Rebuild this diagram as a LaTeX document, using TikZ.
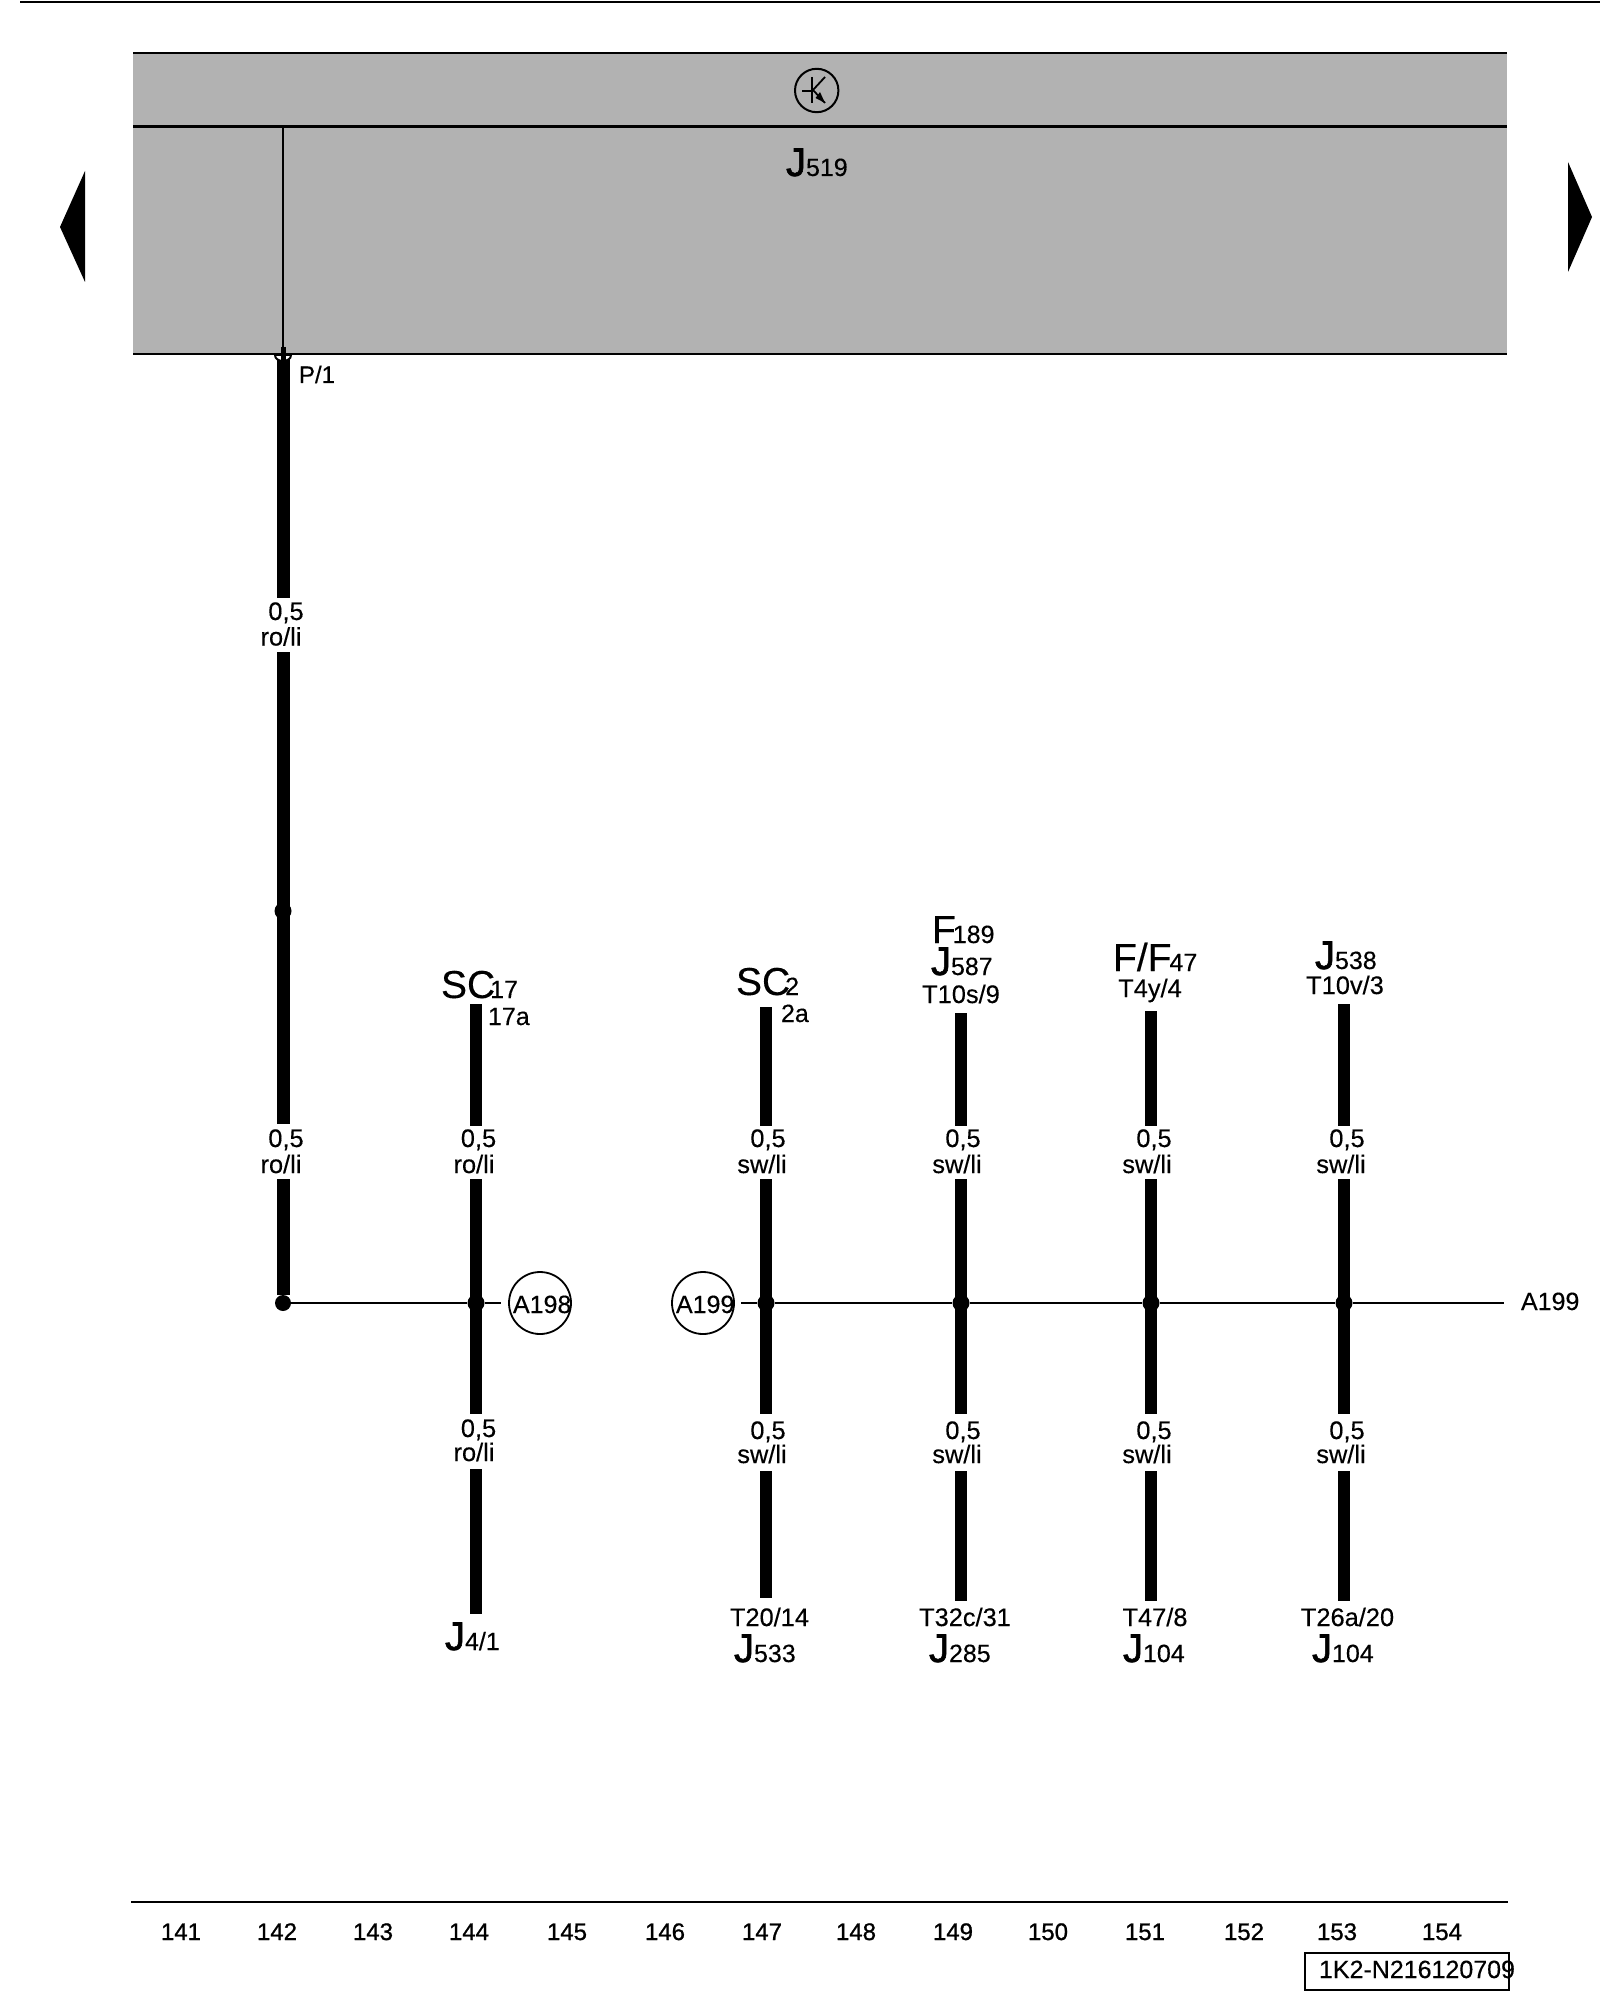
\documentclass[tikz,border=0pt]{standalone}
\usepackage{fontspec}
\setmainfont[FakeBold=0.3]{Liberation Sans}
\newfontfamily\heavyJ[FakeBold=1.6]{Liberation Sans}
\newfontfamily\medF[FakeBold=0.9]{Liberation Sans}
\newcommand{\sz}[1]{\fontsize{#1}{#1}\selectfont}
\newcommand{\bigJ}[1]{{\heavyJ\sz{20}#1}}
\newcommand{\bigS}[1]{{\sz{19.5}#1}}
\newcommand{\subN}[1]{{\sz{12.5}#1}}
\tikzset{
  x=0.5pt,y=-0.5pt,
  lbl/.style={inner sep=0pt,outer sep=0pt,anchor=base,font=\sz{12.7}},
  lblw/.style={inner sep=0pt,outer sep=0pt,anchor=base west,font=\sz{12.5}},
  foot/.style={inner sep=0pt,anchor=base,font=\medF\sz{12}},
  thick wire/.style={line width=6pt,line cap=butt},
  main wire/.style={line width=6.5pt,line cap=butt},
  thin wire/.style={line width=1pt},
  rule/.style={line width=1.1pt},
  junction/.style={circle,fill=black,inner sep=0pt,minimum size=8.5pt},
  bubble/.style={circle,draw,line width=0.9pt,minimum size=31pt,inner sep=0pt,fill=white},
}
\begin{document}
\begin{tikzpicture}
\useasboundingbox (0,0) rectangle (1600,2000);
% top rule
\coordinate (tl) at (20,2); \coordinate (tr) at (1600,2);
\draw[line width=0.7pt] (tl) -- (tr);
% panel
\fill[fill={rgb,255:red,178;green,178;blue,178}] (133,53) rectangle (1507,354);
\coordinate (pa) at (133,53); \coordinate (pb) at (1507,53);
\coordinate (pc) at (133,126.5); \coordinate (pd) at (1507,126.5);
\coordinate (pe) at (133,354); \coordinate (pf) at (1507,354);
\draw[rule] (pa) -- (pb); \draw[rule] (pc) -- (pd); \draw[rule] (pe) -- (pf);
% transistor symbol
\node[circle,draw,line width=1pt,minimum size=21.7pt,inner sep=0pt] (tr1) at (816.7,90.5) {};
\coordinate (b1) at (812,77); \coordinate (b2) at (812,103);
\coordinate (b3) at (802,91); \coordinate (b4) at (812,91);
\coordinate (c0) at (813,90); \coordinate (c1) at (825,77); \coordinate (e1) at (825,103);
\draw[line width=0.9pt] (b1) -- (b2); \draw[line width=0.9pt] (b3) -- (b4);
\draw[line width=0.9pt] (c0) -- (c1);
\draw[line width=0.9pt] (c0) -- (e1);
\fill (825,103) -- (815.5,98) -- (820,92) -- cycle;
\node[lblw] (j519) at (786,176) {\bigJ{J}\subN{519}};
% side arrows
\fill (60,227) -- (85,171) -- (85,282) -- cycle;
\fill (1592,217) -- (1568,162) -- (1568,272) -- cycle;
% wire from panel
\coordinate (w0a) at (283,126.5); \coordinate (w0b) at (283,347);
\coordinate (w0c) at (283,359); \coordinate (w0d) at (283,598);
\coordinate (w0e) at (283,652); \coordinate (w0f) at (283,1124);
\coordinate (w0g) at (283,1179); \coordinate (w0h) at (283,360);
\node[junction,minimum size=8pt] (n0) at (283,1303) {};
\node[junction] (n00) at (283,911) {};
\draw[thin wire] (w0a) -- (w0b);
\draw[main wire] (w0c) -- (w0d); \draw[main wire] (w0e) -- (w0f); \draw[main wire] (w0g) -- (n0);
\draw[line width=1pt,fill=white] (275,355) .. controls (275,363) and (291,363) .. (291,355) -- cycle;
\draw[line width=2.5pt] (w0b) -- (w0h);
\node[lblw,font=\sz{12}] (p1) at (299,383) {P/1};
\node[lbl] at (286,620) {0,5};
\node[lbl] at (281,645.5) {ro/li};
\node[lbl] at (286,1147) {0,5};
\node[lbl] at (281,1173) {ro/li};
% column 1
\coordinate (a1) at (476,1004); \coordinate (a2) at (476,1126); \coordinate (a3) at (476,1179);
\coordinate (a4) at (476,1414); \coordinate (a5) at (476,1469); \coordinate (a6) at (476,1614);
\node[junction] (n1) at (476,1303) {};
\draw[thick wire] (a1) -- (a2); \draw[thick wire] (a3) -- (a4); \draw[thick wire] (a5) -- (a6);
\node[bubble] (b198) at (540,1303) {};
\node[lblw] at (513,1313) {A198};
\coordinate (h1) at (501,1303);
\draw[thin wire] (n0) -- (n1) -- (h1);
\node[lblw] at (441,998) {\bigS{SC}\subN{\kern-2.5pt 17}};
\node[lblw] at (488,1025) {17a};
\node[lbl] at (478.5,1147) {0,5};
\node[lbl] at (474,1173) {ro/li};
\node[lbl] at (478.5,1437) {0,5};
\node[lbl] at (474,1461) {ro/li};
\node[lblw] at (445,1650) {\bigJ{J}\subN{4/1}};
% column 2
\coordinate (c21) at (766,1007); \coordinate (c22) at (766,1126); \coordinate (c23) at (766,1179);
\coordinate (c24) at (766,1414); \coordinate (c25) at (766,1471); \coordinate (c26) at (766,1598);
\node[junction] (n2) at (766,1303) {};
\draw[thick wire] (c21) -- (c22); \draw[thick wire] (c23) -- (c24); \draw[thick wire] (c25) -- (c26);
\node[bubble] (b199) at (703,1303) {};
\node[lblw] at (676,1313) {A199};
\node[lblw] at (736,995) {\bigS{SC}\subN{\kern-2.5pt 2}};
\node[lblw] at (781,1022) {2a};
\node[lbl] at (768,1147) {0,5};
\node[lbl] at (762,1173) {sw/li};
\node[lbl] at (768,1439) {0,5};
\node[lbl] at (762,1463) {sw/li};
\node[lbl] at (769.5,1626) {T20/14};
\node[lblw] at (734,1662) {\bigJ{J}\subN{533}};
% column 3
\coordinate (c31) at (961,1013); \coordinate (c32) at (961,1126); \coordinate (c33) at (961,1179);
\coordinate (c34) at (961,1414); \coordinate (c35) at (961,1471); \coordinate (c36) at (961,1601);
\node[junction] (n3) at (961,1303) {};
\draw[thick wire] (c31) -- (c32); \draw[thick wire] (c33) -- (c34); \draw[thick wire] (c35) -- (c36);
\node[lblw] at (932,943) {\bigS{F}\subN{\kern-1.5pt 189}};
\node[lblw] at (931,975) {\bigJ{J}\subN{587}};
\node[lbl] at (961,1003) {T10s/9};
\node[lbl] at (963,1147) {0,5};
\node[lbl] at (957,1173) {sw/li};
\node[lbl] at (963,1439) {0,5};
\node[lbl] at (957,1463) {sw/li};
\node[lbl] at (965,1626) {T32c/31};
\node[lblw] at (929,1662) {\bigJ{J}\subN{285}};
% column 4
\coordinate (c41) at (1151,1011); \coordinate (c42) at (1151,1126); \coordinate (c43) at (1151,1179);
\coordinate (c44) at (1151,1414); \coordinate (c45) at (1151,1471); \coordinate (c46) at (1151,1601);
\node[junction] (n4) at (1151,1303) {};
\draw[thick wire] (c41) -- (c42); \draw[thick wire] (c43) -- (c44); \draw[thick wire] (c45) -- (c46);
\node[lblw] at (1113,971) {\bigS{F/F}\subN{\kern-1pt 47}};
\node[lbl] at (1150,997) {T4y/4};
\node[lbl] at (1154,1147) {0,5};
\node[lbl] at (1147,1173) {sw/li};
\node[lbl] at (1154,1439) {0,5};
\node[lbl] at (1147,1463) {sw/li};
\node[lbl] at (1155,1626) {T47/8};
\node[lblw] at (1123,1662) {\bigJ{J}\subN{104}};
% column 5
\coordinate (c51) at (1344,1004); \coordinate (c52) at (1344,1126); \coordinate (c53) at (1344,1179);
\coordinate (c54) at (1344,1414); \coordinate (c55) at (1344,1471); \coordinate (c56) at (1344,1601);
\node[junction] (n5) at (1344,1303) {};
\draw[thick wire] (c51) -- (c52); \draw[thick wire] (c53) -- (c54); \draw[thick wire] (c55) -- (c56);
\node[lblw] at (1315,969) {\bigJ{J}\subN{538}};
\node[lbl] at (1345,994) {T10v/3};
\node[lbl] at (1347,1147) {0,5};
\node[lbl] at (1341,1173) {sw/li};
\node[lbl] at (1347,1439) {0,5};
\node[lbl] at (1341,1463) {sw/li};
\node[lbl] at (1347.5,1626) {T26a/20};
\node[lblw] at (1312,1662) {\bigJ{J}\subN{104}};
% bus A199
\coordinate (h2) at (741,1303); \coordinate (h3) at (1504,1303);
\draw[thin wire] (h2) -- (n2) -- (n3) -- (n4) -- (n5) -- (h3);
\node[lblw] at (1521,1310) {A199};
% footer
\coordinate (fl) at (131,1902); \coordinate (fr) at (1508,1902);
\draw[rule] (fl) -- (fr);
\foreach \x/\t in {181/141,277/142,373/143,469/144,567/145,665/146,762/147,856/148,953/149,1048/150,1145/151,1244/152,1337/153,1442/154}
  \node[foot] at (\x,1940) {\t};
\node[draw,line width=1pt,minimum width=102pt,minimum height=18.5pt,inner sep=0pt,anchor=north west] (id) at (1304,1952) {};
\node[lblw] at (1319,1978) {1K2-N216120709};
\end{tikzpicture}
\end{document}
